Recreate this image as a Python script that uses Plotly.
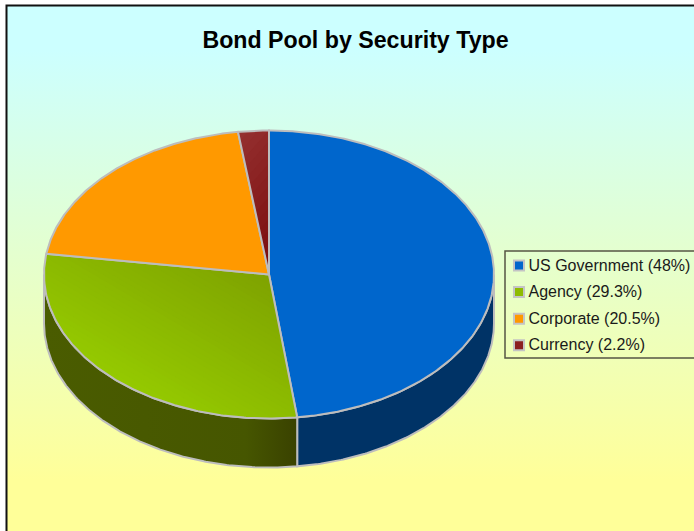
import math
import plotly.graph_objects as go

# Chart data
categories = ["US Government", "Agency", "Corporate", "Currency"]
shares = [48, 29.3, 20.5, 2.2]
title_text = "Bond Pool by Security Type"

# Styling
flat_colors = ["#0066CC", "#8DBB00", "#FF9900", "#8B1F1F"]
OUTLINE = "#BDBDBD"
FONT = "Liberation Sans, Arial, sans-serif"

# Canvas and tilted-pie geometry, in pixels of the 694x531 page
W, H = 694, 531
CX, CY, RX, RY, DEPTH = 269, 274.5, 225, 144, 49


def rim(t_deg, drop=0.0):
    t = math.radians(t_deg)
    return CX + RX * math.sin(t), CY - RY * math.cos(t) + drop


def arc(a, b, drop=0.0):
    n = max(2, int(abs(b - a) * 2))
    return [rim(a + (b - a) * i / n, drop) for i in range(n + 1)]


def mix(c1, c2, f):
    a = [int(c1[i:i + 2], 16) for i in (1, 3, 5)]
    b = [int(c2[i:i + 2], 16) for i in (1, 3, 5)]
    return "rgb(%d,%d,%d)" % tuple(round(p + (q - p) * f) for p, q in zip(a, b))


def clip(poly, d, limit):
    """Keep the part of a convex polygon where the projection on d is <= limit."""
    out = []
    for i, p in enumerate(poly):
        q = poly[(i + 1) % len(poly)]
        sp = p[0] * d[0] + p[1] * d[1] - limit
        sq = q[0] * d[0] + q[1] * d[1] - limit
        if sp <= 0:
            out.append(p)
        if sp * sq < 0:
            f = sp / (sp - sq)
            out.append((p[0] + (q[0] - p[0]) * f, p[1] + (q[1] - p[1]) * f))
    return out


def polygon(pts, **kw):
    xs, ys = zip(*pts)
    return go.Scatter(x=list(xs), y=list(ys), mode="lines", hoverinfo="skip",
                      showlegend=False, **kw)


def filled(pts, color):
    return polygon(pts + pts[:1], fill="toself", fillcolor=color,
                   line=dict(width=0), )


def outlined(pts):
    return polygon(pts + pts[:1], line=dict(color=OUTLINE, width=2))


def diagonal_fill(pts, d, c_start, c_end, steps=36):
    """Shade a convex polygon along direction d with nested flat-colour layers."""
    proj = [p[0] * d[0] + p[1] * d[1] for p in pts]
    lo, hi = min(proj), max(proj)
    traces = []
    for i in range(steps):
        # Drawn from the far end back, so each layer covers the previous one
        f = 1 - i / steps
        part = clip(pts, d, lo + (hi - lo) * f)
        if len(part) >= 3:
            traces.append(filled(part, mix(c_start, c_end, f)))
    return traces


fig = go.Figure()

# Page background with its vertical cyan-to-yellow wash
fig.add_trace(polygon(
    [(6, 5), (W, 5), (W, H), (6, H), (6, 5)],
    fill="toself", line=dict(width=0),
    fillgradient=dict(type="vertical", start=50, stop=480,
                      colorscale=[[0, "#CCFFFF"], [1, "#FFFF99"]]),
))

# Slice boundaries as angles clockwise from twelve o'clock
total = sum(shares)
bounds = [0.0]
for v in shares:
    bounds.append(bounds[-1] + v / total * 360)

# Side wall: only the front half of the rim (90 to 270 degrees) is visible
wall_style = {
    0: dict(fillcolor="#003366"),
    1: dict(fillgradient=dict(type="horizontal", start=44, stop=296,
                              colorscale=[[0, "#4A5C00"], [0.8, "#465600"], [1, "#3A4200"]])),
}
for i, style in wall_style.items():
    a, b = max(bounds[i], 90), min(bounds[i + 1], 270)
    pts = arc(a, b) + arc(b, a, DEPTH)
    fig.add_trace(polygon(pts + pts[:1], fill="toself",
                          line=dict(color=OUTLINE, width=2), **style))

# Top face of each slice
for i in range(len(shares)):
    pts = [(CX, CY)] + arc(bounds[i], bounds[i + 1])
    if categories[i] == "Agency":
        for tr in diagonal_fill(pts, (0.5, -0.85), "#95CA00", "#7FA300"):
            fig.add_trace(tr)
    elif categories[i] == "Currency":
        for tr in diagonal_fill(pts, (0.75, 0.66), "#963232", "#7A0C0C", steps=16):
            fig.add_trace(tr)
    else:
        fig.add_trace(filled(pts, flat_colors[i]))
    fig.add_trace(outlined(pts))

# Legend entries: a square marker and its label
LEGEND_X, LABEL_X, LEGEND_Y0, LEGEND_STEP = 519, 528.5, 265.5, 26.6
for i, (name, v) in enumerate(zip(categories, shares)):
    y = LEGEND_Y0 + i * LEGEND_STEP
    fig.add_trace(go.Scatter(
        x=[LEGEND_X], y=[y], mode="markers", hoverinfo="skip", showlegend=False,
        marker=dict(symbol="square", size=10, color=flat_colors[i],
                    line=dict(color="#C4C4C4", width=2)),
    ))
    fig.add_trace(go.Scatter(
        x=[LABEL_X], y=[y + 1], mode="text", hoverinfo="skip", showlegend=False,
        text=[f"{name} ({v}%)"], textposition="middle right",
        textfont=dict(family=FONT, size=16, color="#1A1A1A"),
    ))

fig.update_layout(
    width=W, height=H, autosize=False,
    margin=dict(l=0, r=0, t=0, b=0),
    paper_bgcolor="#FFFFFF", plot_bgcolor="rgba(0,0,0,0)",
    showlegend=False,
    xaxis=dict(range=[0, W], visible=False, fixedrange=True),
    yaxis=dict(range=[H, 0], visible=False, fixedrange=True),
    title=dict(text=f"<b>{title_text}</b>", x=355.5 / W, xanchor="center",
               y=1 - 40 / H, yanchor="middle", xref="paper", yref="paper",
               font=dict(family=FONT, size=23.2, color="#000000")),
    shapes=[
        # Outer frame, running off the right and bottom of the page
        dict(type="rect", xref="x", yref="y", x0=6.5, y0=5.5, x1=W + 5, y1=H + 5,
             line=dict(color="#111111", width=2), layer="above"),
        # Legend box
        dict(type="rect", xref="x", yref="y", x0=505, y0=251, x1=W + 5, y1=358,
             line=dict(color="#555544", width=1.5), layer="above"),
    ],
)

fig.write_html("out.html", config=dict(displayModeBar=False))
